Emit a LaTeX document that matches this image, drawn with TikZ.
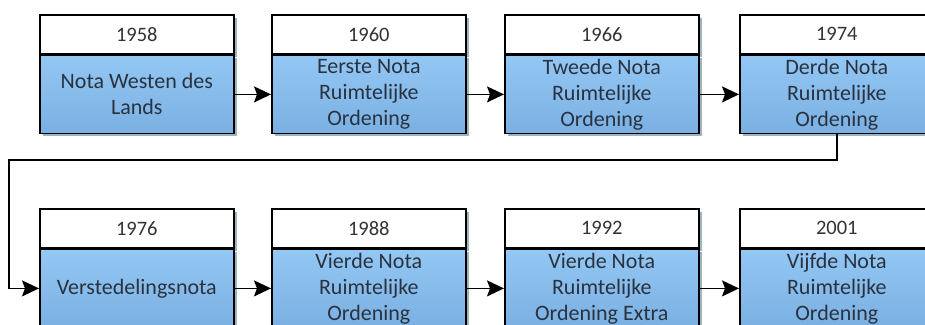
\documentclass[tikz,border=0pt]{standalone}
\usepackage{fontspec}
\setmainfont{Carlito}
\usetikzlibrary{arrows.meta,shadows}

\definecolor{bluetop}{HTML}{93C7F4}
\definecolor{bluebot}{HTML}{7AB0E2}
\definecolor{shade}{HTML}{9DB3BD}
\definecolor{inktext}{HTML}{2A3240}
\definecolor{yeartext}{HTML}{333333}

\begin{document}
\begin{tikzpicture}[x=1pt,y=-1pt,
  boxshadow/.style={drop shadow={shadow xshift=3pt,shadow yshift=-3pt,fill=shade,opacity=1}},
  hdr/.style={draw=black,line width=1.6pt,fill=white,boxshadow,
    minimum width=194pt,minimum height=39pt,inner sep=0pt,anchor=north west,
    text=yeartext,font=\fontsize{20.5}{25}\selectfont},
  body/.style={draw=black,line width=1.6pt,top color=bluetop,bottom color=bluebot,boxshadow,
    minimum width=194pt,minimum height=78pt,inner sep=0pt,anchor=north west,
    align=center,text=inktext,font=\fontsize{22}{26}\selectfont},
  link/.style={line width=1.5pt,-{Stealth[length=17pt,width=16pt,inset=3pt]}}
]
\path[use as bounding box,clip] (0,0) rectangle (925,324);

% the eight boxes: year on top, title below
\foreach \i/\x/\y/\yr/\txt in {
  1/39/14/1958/{Nota Westen des\\Lands},
  2/271/14/1960/{Eerste Nota\\Ruimtelijke\\Ordening},
  3/504/14/1966/{Tweede Nota\\Ruimtelijke\\Ordening},
  4/739/14/1974/{Derde Nota\\Ruimtelijke\\Ordening},
  5/39/208/1976/{Verstedelingsnota},
  6/271/208/1988/{Vierde Nota\\Ruimtelijke\\Ordening},
  7/504/208/1992/{Vierde Nota\\Ruimtelijke\\Ordening Extra},
  8/739/208/2001/{Vijfde Nota\\Ruimtelijke\\Ordening}}{
  \node[hdr] (h\i) at (\x,\y) {\yr};
  \node[body] (b\i) at (h\i.south west) {\txt};
}

\draw[link] (b1.east) -- (b2.west);
\draw[link] (b2.east) -- (b3.west);
\draw[link] (b3.east) -- (b4.west);
\draw[link] (b5.east) -- (b6.west);
\draw[link] (b6.east) -- (b7.west);
\draw[link] (b7.east) -- (b8.west);

% wrap from the end of the first row to the start of the second
\coordinate (turn) at (9,160);
\draw[link] (b4.south) |- (turn) |- (b5.west);
\end{tikzpicture}
\end{document}
